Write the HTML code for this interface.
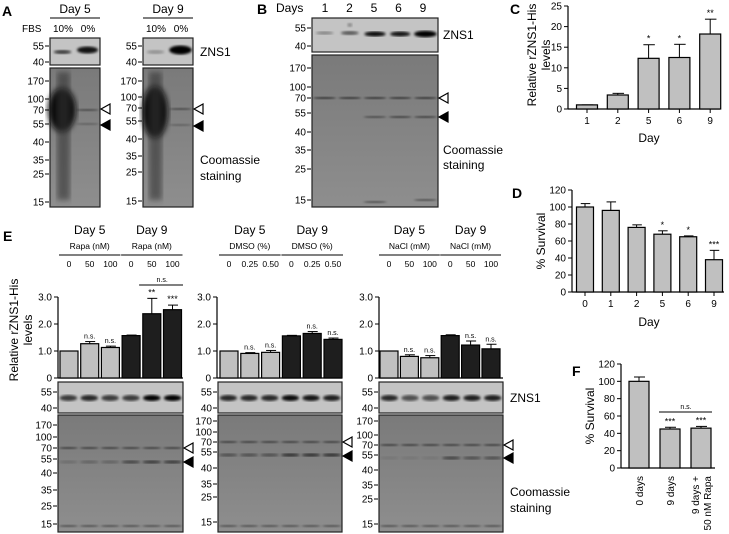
<!DOCTYPE html>
<html><head><meta charset="utf-8"><style>
html,body{margin:0;padding:0;background:#fff;}
svg{display:block;font-family:"Liberation Sans",Arial,sans-serif;}
</style></head><body>
<svg id="fig" width="729" height="534" viewBox="0 0 729 534" xmlns="http://www.w3.org/2000/svg">
<defs>
<filter id="blur1"><feGaussianBlur stdDeviation="1.2"/></filter>
<filter id="blur3"><feGaussianBlur stdDeviation="3"/></filter>
<linearGradient id="gel" x1="0" y1="0" x2="0" y2="1"><stop offset="0" stop-color="#7a7a7a"/><stop offset="1" stop-color="#8e8e8e"/></linearGradient>
</defs>
<g id="dyn"></g>
</svg>
<script>
// ---- chart data ----
const cDays=["1","2","5","6","9"];
const cVals=[1.0,3.4,12.3,12.5,18.2];
const cErr=[1.0,3.8,15.6,15.7,21.8];
const cSig=["","","*","*","**"];
const cTicks=[0,5,10,15,20,25];

const dDays=["0","1","2","5","6","9"];
const dVals=[100,96,76,68,65,38];
const dErr=[104,106,79,72,66,49];
const dSig=["","","","*","*","***"];
const dTicks=[0,20,40,60,80,100,120];

const eRapa=[1.0,1.27,1.13,1.57,2.38,2.53];
const eRapaErr=[1.0,1.35,1.18,1.59,2.95,2.70];
const eRapaSig=["","n.s.","n.s.","","**","***"];
const eDmso=[1.0,0.91,0.95,1.56,1.65,1.43];
const eDmsoErr=[1.0,0.94,1.02,1.58,1.72,1.48];
const eDmsoSig=["","n.s.","n.s.","","n.s.","n.s."];
const eNacl=[1.0,0.80,0.75,1.57,1.22,1.08];
const eNaclErr=[1.0,0.86,0.83,1.60,1.37,1.25];
const eNaclSig=["","n.s.","n.s.","","n.s.","n.s."];
const eTicks=[0,1,2,3];
const eTickLabels=["0","1.0","2.0","3.0"];

const fCats=["0 days","9 days","9 days + 50 nM Rapa"];
const fVals=[100,45,46];
const fErr=[105,47,48];
const fSig=["","***","***"];
const fTicks=[0,20,40,60,80,100,120];

const NS="http://www.w3.org/2000/svg";
const dyn=document.getElementById('dyn');
function mk(tag,attrs,parent,txt){const e=document.createElementNS(NS,tag);for(const k in attrs)e.setAttribute(k,attrs[k]);if(txt!==undefined)e.textContent=txt;(parent||dyn).appendChild(e);return e;}
function txt(x,y,s,size,anchor,extra){return mk('text',Object.assign({x:x,y:y,'font-size':size||10,'text-anchor':anchor||'start',fill:'#000'},extra||{}),dyn,s);}

function barChart(o){
  const sy=v=>o.y0-(v-o.min)/(o.max-o.min)*(o.y0-o.yTop);
  const g=mk('g',{});
  
  
  mk('line',{x1:o.ax,y1:o.yTop,x2:o.ax,y2:o.y0,stroke:'#000','stroke-width':1.2},g);
  mk('line',{x1:o.ax,y1:o.y0,x2:o.axEnd,y2:o.y0,stroke:'#000','stroke-width':1.2},g);
  o.ticks.forEach((t,i)=>{
    const y=sy(t);
    mk('line',{x1:o.ax-4,y1:y,x2:o.ax,y2:y,stroke:'#000','stroke-width':1},g);
    const l=mk('text',{x:o.ax-6,y:y+3.5,'font-size':10,'text-anchor':'end'},g,o.tickLabels?o.tickLabels[i]:String(t));
    
    
  });
  o.vals.forEach((v,i)=>{
    const cx=o.x0+i*o.step;
    const fill=o.colors?o.colors[i]:'#c0c0c0';
    const ey=sy(o.err[i]);
    mk('line',{x1:cx,y1:ey,x2:cx,y2:sy(v),stroke:'#000','stroke-width':1},g);
    mk('line',{x1:cx-o.bw/4,y1:ey,x2:cx+o.bw/4+1,y2:ey,stroke:'#000','stroke-width':1},g);
    const b=mk('rect',{x:cx-o.bw/2,y:sy(v),width:o.bw,height:o.y0-sy(v),fill:fill,stroke:'#000','stroke-width':1.2},g);
    
    
    if(o.sig&&o.sig[i]){mk('text',{x:cx,y:ey-3,'font-size':o.sig[i]==='n.s.'?7:9,'text-anchor':'middle'},g,o.sig[i]);}
    if(o.cats){
      if(o.rotCats){
        const t=mk('text',{x:0,y:0,'font-size':10,'text-anchor':'end',transform:`translate(${cx+4},${o.y0+8}) rotate(-90)`},g);
        const parts=o.cats[i].split(' + ');
        if(parts.length>1){
          mk('tspan',{x:0,dy:-6},t,parts[0]+' +');
          mk('tspan',{x:0,dy:12},t,parts[1]);
        } else t.textContent=o.cats[i];
        
        
      } else {
        mk('line',{x1:cx,y1:o.y0,x2:cx,y2:o.y0+4,stroke:'#000'},g);
        const t=mk('text',{x:cx,y:o.y0+15,'font-size':10,'text-anchor':'middle'},g,o.cats[i]);
        
        
      }
    }
  });
  dyn.appendChild(g);
}

barChart({name:'chart-c',ax:568,axEnd:720,y0:109,yTop:6,min:0,max:25,ticks:cTicks,vals:cVals,err:cErr,sig:cSig,cats:cDays,x0:587,step:30.8,bw:21});
barChart({name:'chart-d',ax:572,axEnd:724,y0:292,yTop:190,min:0,max:120,ticks:dTicks,vals:dVals,err:dErr,sig:dSig,cats:dDays,x0:585,step:25.8,bw:17});
const eCols=['#c0c0c0','#c0c0c0','#c0c0c0','#1e1e1e','#1e1e1e','#1e1e1e'];
const E1={ax:58,end:183,x0:69,step:20.7};
const E2={ax:217,end:342,x0:229,step:20.8};
const E3={ax:379,end:503,x0:389,step:20.4};
barChart({name:'chart-e-rapa',ax:E1.ax,axEnd:E1.end,y0:378,yTop:297,min:0,max:3,ticks:eTicks,tickLabels:eTickLabels,vals:eRapa,err:eRapaErr,sig:eRapaSig,x0:E1.x0,step:E1.step,bw:18,colors:eCols});
barChart({name:'chart-e-dmso',ax:E2.ax,axEnd:E2.end,y0:378,yTop:297,min:0,max:3,ticks:eTicks,tickLabels:eTickLabels,vals:eDmso,err:eDmsoErr,sig:eDmsoSig,x0:E2.x0,step:E2.step,bw:18,colors:eCols});
barChart({name:'chart-e-nacl',ax:E3.ax,axEnd:E3.end,y0:378,yTop:297,min:0,max:3,ticks:eTicks,tickLabels:eTickLabels,vals:eNacl,err:eNaclErr,sig:eNaclSig,x0:E3.x0,step:E3.step,bw:18,colors:eCols});
barChart({name:'chart-f',ax:621,axEnd:715,y0:468,yTop:364,min:0,max:120,ticks:fTicks,vals:fVals,err:fErr,sig:fSig,cats:fCats,rotCats:true,x0:639,step:31,bw:20});

// ---- blots ----
function blot(name,x,y,w,h,lanes,bands,dark){
  const g=mk('g',{});
  
  
  mk('rect',{x:x,y:y,width:w,height:h,fill:dark?'url(#gel)':'#c4c4c4'},g);
  const lw=w/lanes;
  bands.forEach(b=>{
    mk('ellipse',{cx:x+lw*(b[0]+0.5),cy:b[1],rx:lw*(b[3]||0.4),ry:b[4]||2.5,fill:'#000',opacity:b[2],filter:'url(#blur1)'},g);
  });
  mk('rect',{x:x,y:y,width:w,height:h,fill:'none',stroke:'#222','stroke-width':1.2},g);
  dyn.appendChild(g);
  return g;
}
function ladder(x,labels,ys){labels.forEach((l,i)=>{mk('line',{x1:x-4,y1:ys[i],x2:x,y2:ys[i],stroke:'#000'});txt(x-5,ys[i]+3.5,l,10,'end');});}
function tri(x,y,open){mk('polygon',{points:`${x},${y} ${x+9},${y-5} ${x+9},${y+5}`,fill:open?'#fff':'#000',stroke:'#000','stroke-width':1.2});}

// Panel A
blot('blot-a-day5-zns1',50,38,50,27,2,[[0,52,0.7,0.35,2],[1,50,0.9,0.42,3.5]]);
blot('blot-a-day9-zns1',143,38,50,27,2,[[0,52,0.25,0.35,2],[1,50,1,0.45,4.5]]);
const ga=blot('blot-a-day5-coomassie',50,68,50,139,2,[[1,110,0.5,0.45,1],[1,124,0.3,0.45,1]],true);
mk('ellipse',{cx:62,cy:110,rx:14,ry:22,fill:'#111',filter:'url(#blur3)'},ga);
mk('rect',{x:57,y:72,width:13,height:128,fill:'#333',opacity:0.6,filter:'url(#blur3)'},ga);
const gb=blot('blot-a-day9-coomassie',143,68,50,139,2,[[1,109,0.5,0.45,1],[1,125,0.3,0.45,1]],true);
mk('ellipse',{cx:155,cy:112,rx:13,ry:26,fill:'#111',filter:'url(#blur3)'},gb);
mk('rect',{x:149,y:72,width:13,height:128,fill:'#333',opacity:0.6,filter:'url(#blur3)'},gb);
ladder(49,['55','40'],[46,62]);ladder(142,['55','40'],[46,62]);
ladder(49,['170','100','70','55','40','35','25','15'],[81,99,110,124,142,160,174,202]);
ladder(142,['170','100','70','55','40','35','25','15'],[81,97,108,121,139,156,172,201]);
tri(101,109,true);tri(101,125,false);tri(194,109,true);tri(194,126,false);

// Panel B
blot('blot-b-zns1',312,18,126,34,5,[[0,33,0.35,0.35,1.5],[1,33,0.55,0.35,2],[1,25,0.3,0.1,2],[2,34,0.95,0.42,2.5],[3,34,0.9,0.4,2.5],[4,34,1,0.45,3.2]]);
blot('blot-b-coomassie',312,55,126,152,5,[[0,98,0.7,0.45,1],[1,98,0.7,0.45,1],[2,98,0.7,0.45,1],[3,98,0.7,0.45,1],[4,98,0.7,0.45,1],[2,117,0.5,0.45,1],[3,117,0.6,0.45,1],[4,117,0.6,0.45,1],[2,202,0.5,0.45,1],[4,200,0.5,0.45,1]],true);
ladder(311,['55','40'],[28,46]);
ladder(311,['170','100','70','55','40','35','25','15'],[68,87,98,113,132,150,169,200]);
tri(439,98,true);tri(439,117,false);

// Panel E blots
function eBlots(name,x,w,ladY,b70,b55,dark55,laneDark){
  const zb=[];for(let i=0;i<6;i++)zb.push([i,398,laneDark[i],0.42,3]);
  blot('blot-e-'+name+'-zns1',x,382,w,31,6,zb);
  const cb=[];for(let i=0;i<6;i++){cb.push([i,b70,0.6,0.45,1]);cb.push([i,b55,dark55[i],0.45,1.3]);cb.push([i,526,0.5,0.45,1]);}
  blot('blot-e-'+name+'-coomassie',x,415,w,117,6,cb,true);
  ladder(x-1,['55','40'],[392,408]);
  ladder(x-1,['170','100','70','55','40','35','25','15'],ladY);
}
eBlots('rapa',58,125,[425,437,448,459,473,490,506,524],448,462,[0.2,0.3,0.3,0.6,0.7,0.7],[0.7,0.8,0.7,0.7,1,1]);
eBlots('dmso',218,124,[421,432,442,452,468,484,497,522],442,455,[0.5,0.5,0.5,0.8,0.8,0.8],[0.8,0.8,0.8,0.95,0.9,0.85]);
eBlots('nacl',379,124,[421,435,445,455,470,485,499,524],445,458,[0.1,0.1,0.1,0.6,0.5,0.5],[0.8,0.6,0.6,0.85,0.85,0.85]);
tri(184,448,true);tri(184,462,false);tri(343,442,true);tri(343,456,false);tri(504,445,true);tri(504,458,false);

// ---- static text ----
function T(x,y,s,size,anchor,name,extra){const e=txt(x,y,s,size,anchor,extra);return e;}
T(2,16,'A',14,'start','panel-label-a',{'font-weight':'bold'});
T(75,13,'Day 5',12,'middle','a-day5-label');T(168,13,'Day 9',12,'middle','a-day9-label');
mk('line',{x1:50,y1:18,x2:100,y2:18,stroke:'#555','stroke-width':1.5});mk('line',{x1:143,y1:18,x2:193,y2:18,stroke:'#555','stroke-width':1.5});
T(22,32,'FBS',10,'start','fbs-label');T(63,32,'10%',10,'middle','fbs-10');T(88,32,'0%',10,'middle','fbs-0');T(156,32,'10%',10,'middle','fbs-10b');T(181,32,'0%',10,'middle','fbs-0b');
T(200,56,'ZNS1',12,'start','a-zns1-label');T(200,164,'Coomassie',12,'start','a-coomassie-label');T(200,180,'staining',12,'start','a-staining-label');
T(257,14,'B',14,'start','panel-label-b',{'font-weight':'bold'});T(276,12,'Days',12,'start','b-days-label');
['1','2','5','6','9'].forEach((d,i)=>T(325+i*24.5,12,d,12,'middle','b-day-'+d));
T(443,39,'ZNS1',12,'start','b-zns1-label');T(443,154,'Coomassie',12,'start','b-coomassie-label');T(443,169,'staining',12,'start','b-staining-label');
T(510,14,'C',14,'start','panel-label-c',{'font-weight':'bold'});
T(0,0,'Relative rZNS1-His',12,'middle','c-y-title',{transform:'translate(536,55) rotate(-90)'});
T(0,0,'levels',12,'middle','c-y-title-2',{transform:'translate(550,55) rotate(-90)'});
T(649,142,'Day',12,'middle','c-x-title');
T(512,198,'D',14,'start','panel-label-d',{'font-weight':'bold'});
T(0,0,'% Survival',12,'middle','d-y-title',{transform:'translate(545,241) rotate(-90)'});
T(649,326,'Day',12,'middle','d-x-title');
T(3,241,'E',14,'start','panel-label-e',{'font-weight':'bold'});
T(0,0,'Relative rZNS1-His',12,'middle','e-y-title',{transform:'translate(18,330) rotate(-90)'});
T(0,0,'levels',12,'middle','e-y-title-2',{transform:'translate(32,330) rotate(-90)'});
function header(c,unit,nums){
  const c5=c.x0+c.step, c9=c.x0+4*c.step;
  T(c5,234,'Day 5',12,'middle','e-day5-label');
  T(c9,234,'Day 9',12,'middle','e-day9-label');
  T(c5,249,unit,8.5,'middle','e-unit-day5');T(c9,249,unit,8.5,'middle','e-unit-day9');
  mk('line',{x1:c.x0-10,y1:255,x2:c.x0+2*c.step+10,y2:255,stroke:'#000'});
  mk('line',{x1:c.x0+3*c.step-10,y1:255,x2:c.x0+5*c.step+10,y2:255,stroke:'#000'});
  nums.forEach((n,i)=>T(c.x0+i*c.step,267,n,8.5,'middle','e-dose-label'));
}
header(E1,'Rapa (nM)',['0','50','100','0','50','100']);
header(E2,'DMSO (%)',['0','0.25','0.50','0','0.25','0.50']);
header(E3,'NaCl (mM)',['0','50','100','0','50','100']);
mk('line',{x1:E1.x0+3*E1.step+8,y1:285,x2:E1.end,y2:285,stroke:'#000'});T(E1.x0+4.5*E1.step,282,'n.s.',7,'middle','e-ns-bracket');
T(510,402,'ZNS1',12,'start','e-zns1-label');T(510,496,'Coomassie',12,'start','e-coomassie-label');T(510,512,'staining',12,'start','e-staining-label');
T(572,376,'F',14,'start','panel-label-f',{'font-weight':'bold'});
T(0,0,'% Survival',12,'middle','f-y-title',{transform:'translate(594,416) rotate(-90)'});
mk('line',{x1:659,y1:412,x2:712,y2:412,stroke:'#000'});T(686,409,'n.s.',7,'middle','f-ns-bracket');
</script>
</body></html>
